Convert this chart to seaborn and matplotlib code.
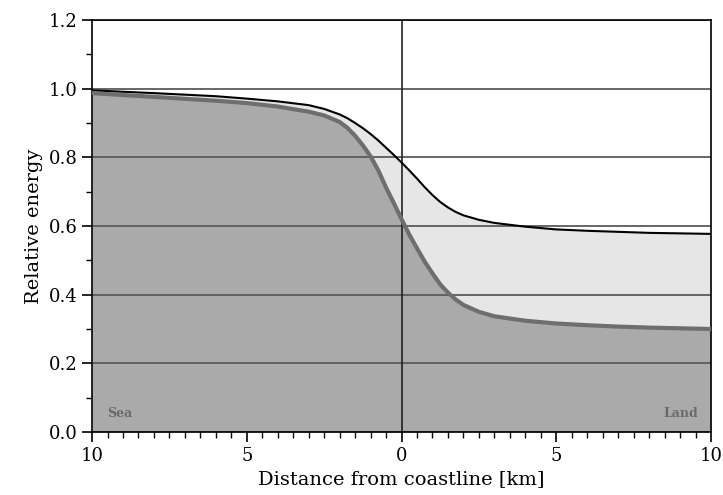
import matplotlib
matplotlib.use("Agg")
import pandas as pd
import seaborn as sns
import matplotlib.pyplot as plt
from matplotlib.ticker import MultipleLocator, FuncFormatter

distance = [-10, -8, -6, -5, -4, -3, -2.5, -2, -1.75, -1.5, -1.25, -1, -0.75, -0.5, -0.25, 0,
            0.25, 0.5, 0.75, 1, 1.25, 1.5, 1.75, 2, 2.5, 3, 4, 5, 6, 7, 8, 10]
upper = [0.995, 0.987, 0.978, 0.971, 0.963, 0.952, 0.941, 0.925, 0.914, 0.900, 0.885, 0.868,
         0.849, 0.828, 0.807, 0.785, 0.762, 0.738, 0.713, 0.690, 0.670, 0.654, 0.641, 0.631,
         0.618, 0.609, 0.598, 0.590, 0.586, 0.583, 0.580, 0.577]
lower = [0.987, 0.976, 0.965, 0.958, 0.948, 0.933, 0.922, 0.903, 0.886, 0.863, 0.835, 0.803,
         0.762, 0.712, 0.667, 0.620, 0.575, 0.535, 0.496, 0.462, 0.430, 0.406, 0.386, 0.370,
         0.350, 0.337, 0.324, 0.316, 0.311, 0.307, 0.304, 0.300]

sns.set_style("ticks")
plt.rcParams['font.family'] = ['DejaVu Serif']
plt.rcParams['text.color'] = 'black'
plt.rcParams['axes.labelcolor'] = 'black'
plt.rcParams['xtick.color'] = 'black'
plt.rcParams['ytick.color'] = 'black'

df = pd.DataFrame({'distance': distance, 'upper': upper, 'lower': lower})

fig = plt.figure(figsize=(7.23, 4.95), dpi=100)
ax = fig.add_axes([0.1273, 0.1273, 0.8561, 0.8323])

ax.fill_between(df['distance'], 0, df['lower'], color='#aaaaaa', lw=0, zorder=1)
ax.fill_between(df['distance'], df['lower'], df['upper'], color='#e6e6e6', lw=0, zorder=1)

sns.lineplot(data=df, x='distance', y='upper', color='black', lw=1.5, ax=ax, zorder=3)
sns.lineplot(data=df, x='distance', y='lower', color='#6e6e6e', lw=3, ax=ax, zorder=3)

ax.axvline(0, color='#222222', lw=1.2, zorder=2)

ax.set_xlim(-10, 10)
ax.set_ylim(0, 1.2)
ax.xaxis.set_major_locator(MultipleLocator(5))
ax.xaxis.set_minor_locator(MultipleLocator(0.5))
ax.yaxis.set_major_locator(MultipleLocator(0.2))
ax.yaxis.set_minor_locator(MultipleLocator(0.1))
ax.xaxis.set_major_formatter(FuncFormatter(lambda v, p: f"{abs(v):.0f}"))
ax.yaxis.set_major_formatter(FuncFormatter(lambda v, p: f"{v:.1f}"))
ax.grid(axis='y', color='#5a5a5a', lw=1.3)
ax.set_axisbelow('line')

ax.tick_params(axis='both', which='major', length=7, width=1.2, labelsize=13)
ax.tick_params(axis='both', which='minor', length=4, width=1.0)
for s in ax.spines.values():
    s.set_color('black')
    s.set_linewidth(1.2)

ax.text(-9.5, 0.045, 'Sea', fontsize=9, fontweight='bold', color='#6a6a6a')
ax.text(9.6, 0.045, 'Land', fontsize=9, fontweight='bold', color='#6a6a6a', ha='right')

ax.set_xlabel('Distance from coastline [km]', fontsize=14)
ax.set_ylabel('Relative energy', fontsize=14)

fig.savefig('out.png', dpi=100)
